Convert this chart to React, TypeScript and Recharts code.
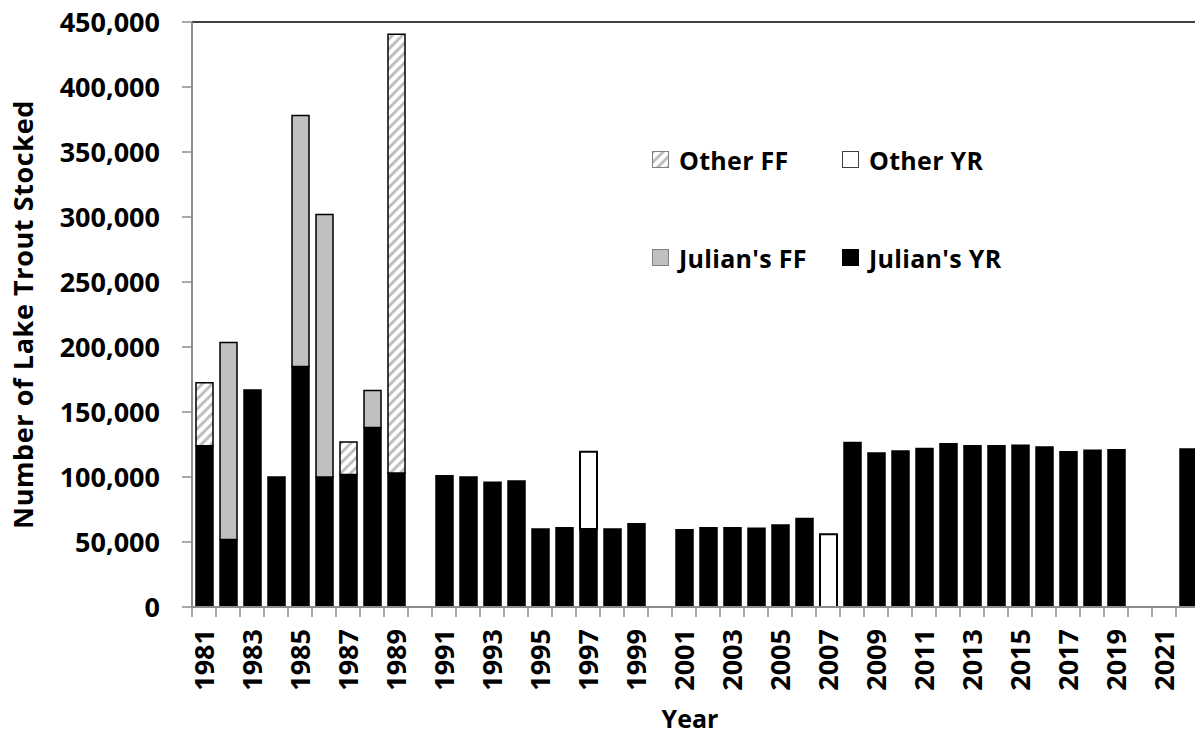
import React from "react";
import {
  BarChart,
  Bar,
  XAxis,
  YAxis,
  Legend,
  Label,
  ReferenceLine,
} from "recharts";

const years = [
  "1981", "1982", "1983", "1984", "1985", "1986", "1987", "1988", "1989", "1990",
  "1991", "1992", "1993", "1994", "1995", "1996", "1997", "1998", "1999", "2000",
  "2001", "2002", "2003", "2004", "2005", "2006", "2007", "2008", "2009", "2010",
  "2011", "2012", "2013", "2014", "2015", "2016", "2017", "2018", "2019", "2020",
  "2021", "2022",
];

const julianYR = [
  124000, 52000, 167000, 100000, 185000, 100000, 102000, 138000, 103000, 0,
  101000, 100000, 96000, 97000, 60000, 61000, 60000, 60000, 64000, 0,
  59500, 61000, 61000, 60500, 63000, 68000, 0, 126500, 118500, 120000,
  122000, 125500, 124000, 124000, 124500, 123000, 119500, 120500, 121000, 0,
  0, 121500,
];

const julianFF = [
  0, 151500, 0, 0, 193000, 202000, 0, 28500, 0, 0,
  0, 0, 0, 0, 0, 0, 0, 0, 0, 0,
  0, 0, 0, 0, 0, 0, 0, 0, 0, 0,
  0, 0, 0, 0, 0, 0, 0, 0, 0, 0,
  0, 0,
];

const otherYR = [
  0, 0, 0, 0, 0, 0, 0, 0, 0, 0,
  0, 0, 0, 0, 0, 0, 59500, 0, 0, 0,
  0, 0, 0, 0, 0, 0, 56000, 0, 0, 0,
  0, 0, 0, 0, 0, 0, 0, 0, 0, 0,
  0, 0,
];

const otherFF = [
  48500, 0, 0, 0, 0, 0, 25000, 0, 337500, 0,
  0, 0, 0, 0, 0, 0, 0, 0, 0, 0,
  0, 0, 0, 0, 0, 0, 0, 0, 0, 0,
  0, 0, 0, 0, 0, 0, 0, 0, 0, 0,
  0, 0,
];

const yTicks = [0, 50000, 100000, 150000, 200000, 250000, 300000, 350000, 400000, 450000];

const data = years.map((year, i) => ({
  year,
  julianYR: julianYR[i],
  julianFF: julianFF[i],
  otherYR: otherYR[i],
  otherFF: otherFF[i],
}));

const FONT = "'Open Sans', sans-serif";
const AXIS_GRAY = "#8c8c8c";

const CHART_W = 1210;
const CHART_H = 736;
const MARGIN = { top: 22, right: 10, bottom: 0, left: 0 };
const Y_AXIS_W = 192;
const X_AXIS_H = 129;
const BAND = (CHART_W - MARGIN.left - MARGIN.right - Y_AXIS_W) / years.length;

// order shown in the legend (2 x 2 grid)
const legendItems = [
  { key: "otherFF", name: "Other FF", fill: "url(#hatch)", border: "#7f7f7f" },
  { key: "otherYR", name: "Other YR", fill: "#ffffff", border: "#404040" },
  { key: "julianFF", name: "Julian's FF", fill: "#bfbfbf", border: "#7f7f7f" },
  { key: "julianYR", name: "Julian's YR", fill: "#000000", border: "#000000" },
];

const XTick = (props: any) => {
  const { x, y, payload } = props;
  const idx = years.indexOf(String(payload.value));
  return (
    <g>
      <line x1={x - BAND / 2} x2={x - BAND / 2} y1={y} y2={y + 10} stroke={AXIS_GRAY} strokeWidth={1.5} />
      {idx % 2 === 0 && (
        <text
          transform={`translate(${x + 9.5},${y + 22}) rotate(-90)`}
          textAnchor="end"
          fontFamily={FONT}
          fontWeight={700}
          fontSize={27}
          fill="#000"
        >
          {payload.value}
        </text>
      )}
    </g>
  );
};

const renderLegend = () => (
  <div
    style={{
      display: "grid",
      gridTemplateColumns: "190px 190px",
      rowGap: 66,
      fontFamily: FONT,
      fontWeight: 700,
      fontSize: 25,
      letterSpacing: 0.3,
      color: "#000",
    }}
  >
    {legendItems.map((it) => (
      <div key={it.key} style={{ display: "flex", alignItems: "center", height: 32 }}>
        <svg width={18} height={18} style={{ marginRight: 9 }}>
          <rect x={0.5} y={0.5} width={16} height={16} fill={it.fill} stroke={it.border} strokeWidth={1} />
        </svg>
        <span style={{ whiteSpace: "nowrap" }}>{it.name}</span>
      </div>
    ))}
  </div>
);

export default function App() {
  return (
    <div
      style={{
        position: "absolute",
        left: 0,
        top: 0,
        width: 1195,
        height: 736,
        overflow: "hidden",
        background: "#fff",
        fontFamily: FONT,
      }}
    >
      <BarChart width={CHART_W} height={CHART_H} data={data} margin={MARGIN} barSize={17}>
        <defs>
          <pattern id="hatch" width="7" height="7" patternUnits="userSpaceOnUse" patternTransform="rotate(45)">
            <rect width="7" height="7" fill="#ffffff" />
            <rect width="3" height="7" fill="#bfbfbf" />
          </pattern>
        </defs>
        <XAxis
          dataKey="year"
          interval={0}
          height={X_AXIS_H}
          tickLine={false}
          tickSize={0}
          tickMargin={0}
          tick={<XTick />}
          axisLine={{ stroke: AXIS_GRAY, strokeWidth: 2 }}
        >
          <Label
            content={(p: any) => {
              const vb = p.viewBox;
              return (
                <text
                  x={vb.x + vb.width / 2 - 6}
                  y={vb.y + 121}
                  textAnchor="middle"
                  fontFamily={FONT}
                  fontWeight={700}
                  fontSize={25}
                  fill="#000"
                >
                  Year
                </text>
              );
            }}
          />
        </XAxis>
        <YAxis
          width={Y_AXIS_W}
          domain={[0, 450000]}
          ticks={yTicks}
          interval={0}
          tickSize={10}
          tickMargin={22}
          tickLine={{ stroke: AXIS_GRAY, strokeWidth: 1.5 }}
          axisLine={{ stroke: AXIS_GRAY, strokeWidth: 2 }}
          tickFormatter={(v: number) => v.toLocaleString("en-US")}
          tick={{ fill: "#000", fontFamily: FONT, fontWeight: 700, fontSize: 27 }}
        >
          <Label
            content={(p: any) => {
              const vb = p.viewBox;
              const cx = vb.x + 22;
              const cy = vb.y + vb.height / 2;
              return (
                <text
                  transform={`translate(${cx},${cy}) rotate(-90)`}
                  textAnchor="middle"
                  dominantBaseline="central"
                  fontFamily={FONT}
                  fontWeight={700}
                  fontSize={27}
                  letterSpacing={0.6}
                  fill="#000"
                >
                  Number of Lake Trout Stocked
                </text>
              );
            }}
          />
        </YAxis>
        <ReferenceLine y={450000} stroke="#404040" strokeWidth={2} />
        <Legend
          layout="horizontal"
          verticalAlign="middle"
          align="center"
          content={renderLegend}
          wrapperStyle={{ left: 652, top: 144, width: 420 }}
        />
        <Bar dataKey="julianYR" name="Julian's YR" stackId="a" fill="#000000" stroke="#000" strokeWidth={1.5} isAnimationActive={false} />
        <Bar dataKey="julianFF" name="Julian's FF" stackId="a" fill="#bfbfbf" stroke="#000" strokeWidth={1.5} isAnimationActive={false} />
        <Bar dataKey="otherYR" name="Other YR" stackId="a" fill="#ffffff" stroke="#000" strokeWidth={2} isAnimationActive={false} />
        <Bar dataKey="otherFF" name="Other FF" stackId="a" fill="url(#hatch)" stroke="#000" strokeWidth={1.5} isAnimationActive={false} />
      </BarChart>
    </div>
  );
}
